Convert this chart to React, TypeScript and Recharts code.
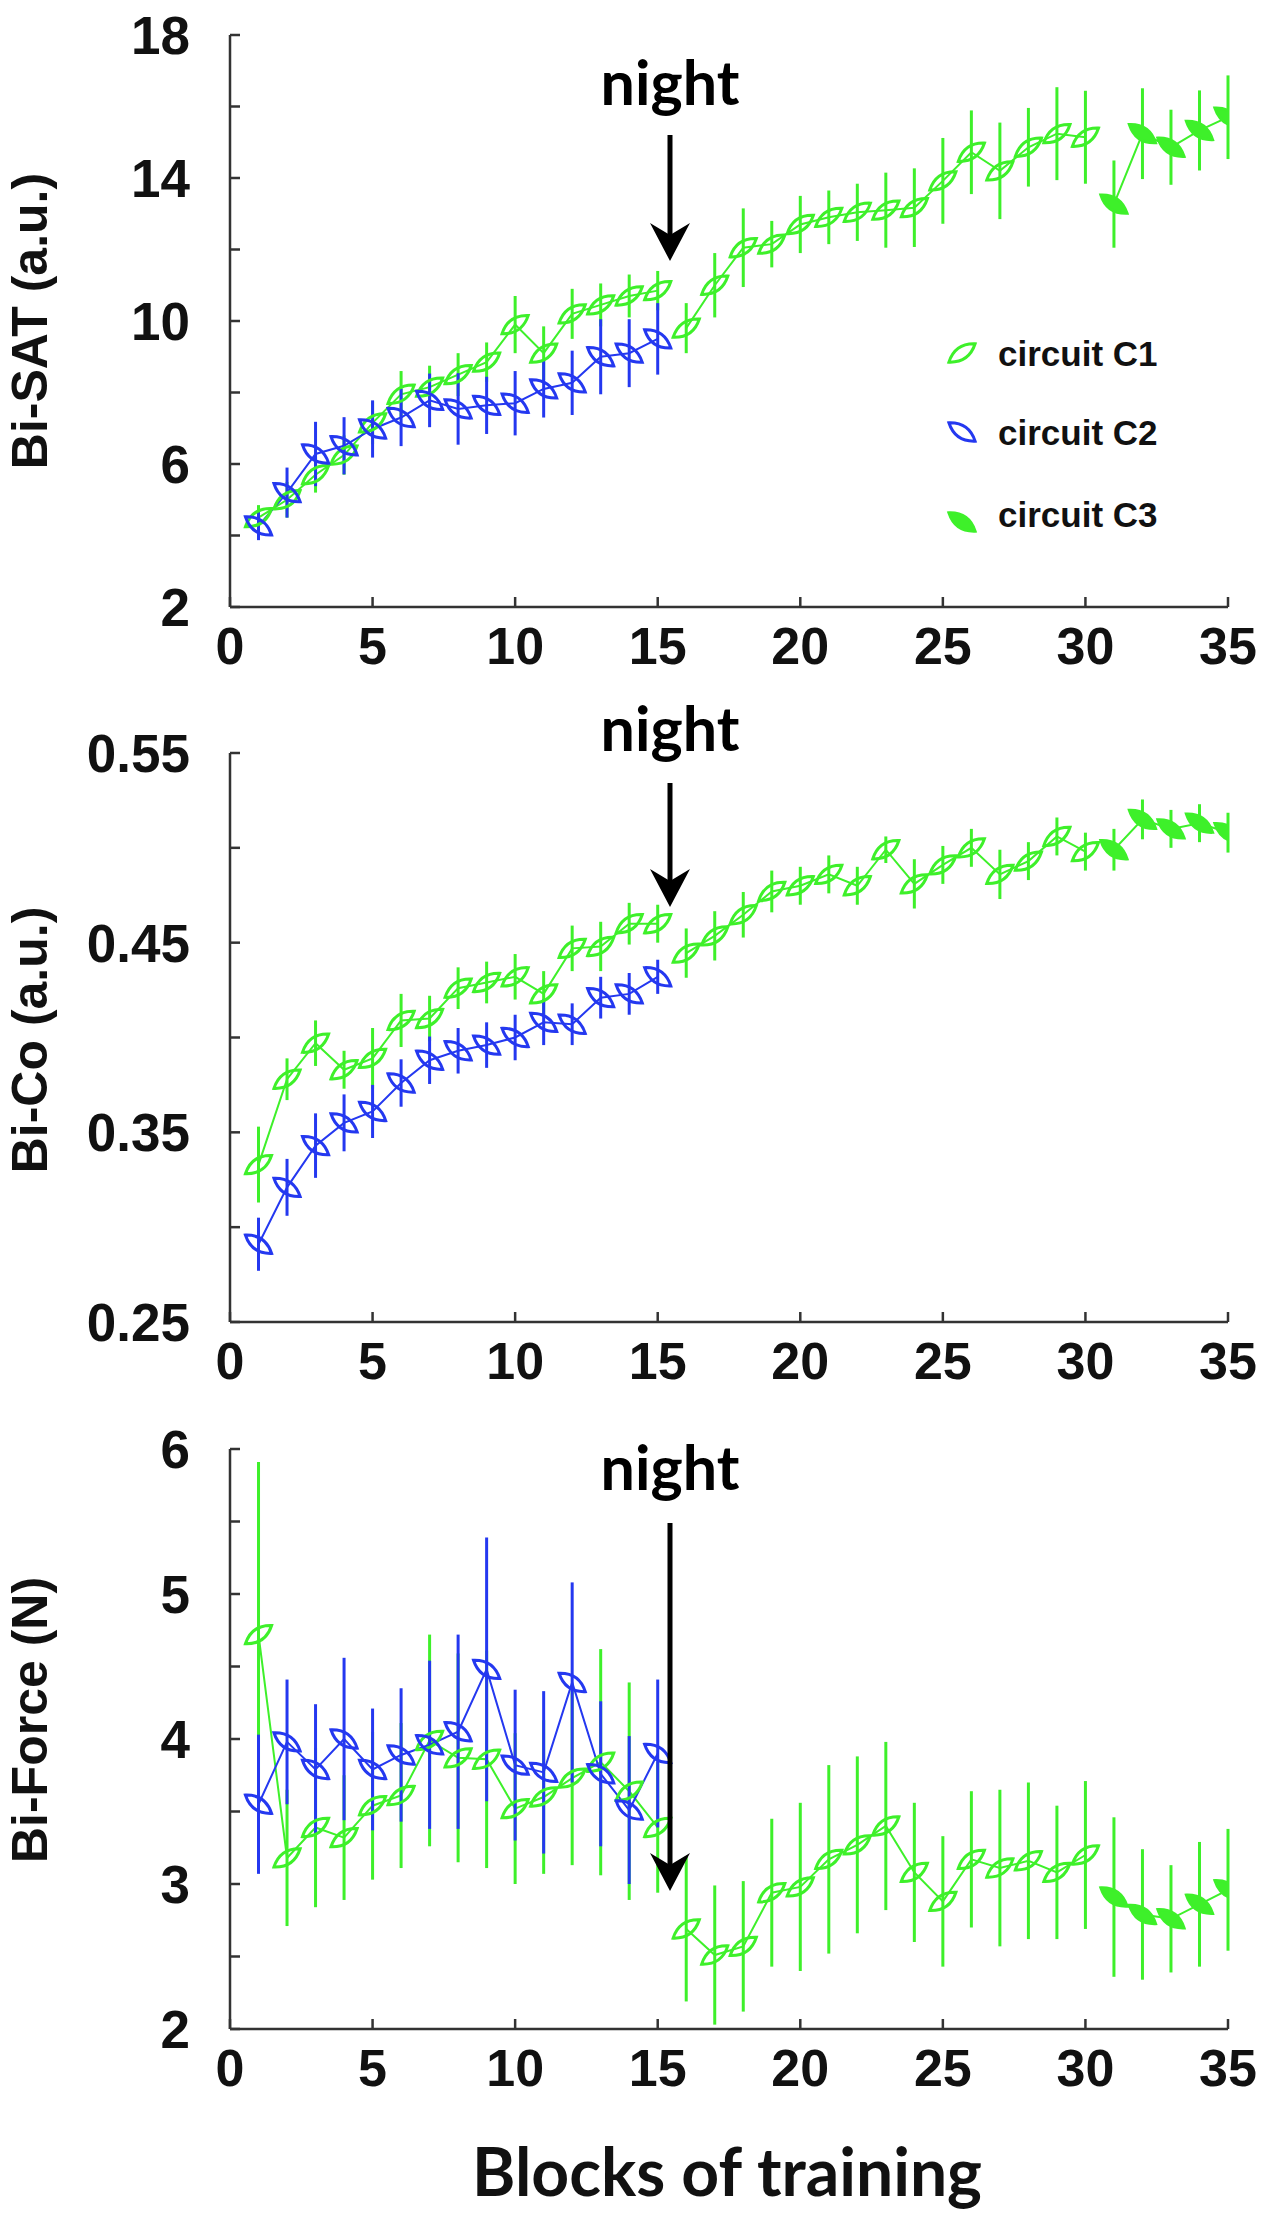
import React from 'react';
import { ComposedChart, Line, XAxis, YAxis, ErrorBar } from 'recharts';

const GREEN = '#3ef02a';
const BLUE = '#2438f0';
const AXIS = '#333333';
const ARIAL = '"Liberation Sans", Arial, sans-serif';
const HUMANIST = 'Lato, "Open Sans", sans-serif';

// blocks of training
const blocksDay1 = [1, 2, 3, 4, 5, 6, 7, 8, 9, 10, 11, 12, 13, 14, 15];
const blocksDay2 = [16, 17, 18, 19, 20, 21, 22, 23, 24, 25, 26, 27, 28, 29, 30];
const blocksC3 = [31, 32, 33, 34, 35];
const xTicks = [0, 5, 10, 15, 20, 25, 30, 35];

// Bi-SAT (a.u.)
const satC1Day1 = [4.5, 5.0, 5.7, 6.25, 7.15, 7.95, 8.15, 8.5, 8.85, 9.9, 9.1, 10.2, 10.45, 10.7, 10.85];
const satC1Day1Err = [0.35, 0.5, 0.5, 0.55, 0.6, 0.65, 0.6, 0.6, 0.55, 0.8, 0.75, 0.7, 0.6, 0.6, 0.55];
const satC1Day2 = [9.8, 11.0, 12.05, 12.15, 12.7, 12.9, 13.04, 13.1, 13.17, 13.92, 14.72, 14.2, 14.86, 15.24, 15.14];
const satC1Day2Err = [0.7, 0.9, 1.1, 0.65, 0.8, 0.75, 0.8, 1.05, 1.1, 1.2, 1.17, 1.35, 1.1, 1.3, 1.3];
const satC2 = [4.27, 5.2, 6.28, 6.51, 6.98, 7.3, 7.78, 7.54, 7.64, 7.7, 8.1, 8.27, 9.0, 9.1, 9.5];
const satC2Err = [0.4, 0.7, 0.9, 0.8, 0.8, 0.8, 0.75, 1.0, 0.8, 0.9, 0.8, 0.9, 1.05, 0.95, 1.0];
const satC3 = [13.27, 15.24, 14.86, 15.33, 15.7];
const satC3Err = [1.22, 1.27, 1.05, 1.12, 1.17];
const satTicks = [2, 4, 6, 8, 10, 12, 14, 16, 18];
const satLabels = [2, 6, 10, 14, 18];

// Bi-Co (a.u.)
const coC1Day1 = [0.333, 0.378, 0.397, 0.383, 0.389, 0.409, 0.41, 0.426, 0.429, 0.432, 0.423, 0.447, 0.448, 0.46, 0.46];
const coC1Day1Err = [0.02, 0.011, 0.012, 0.01, 0.016, 0.014, 0.012, 0.011, 0.011, 0.012, 0.012, 0.012, 0.013, 0.011, 0.01];
const coC1Day2 = [0.4445, 0.4536, 0.4647, 0.477, 0.48, 0.486, 0.48, 0.499, 0.481, 0.491, 0.5, 0.486, 0.493, 0.506, 0.498];
const coC1Day2Err = [0.013, 0.013, 0.012, 0.011, 0.01, 0.01, 0.01, 0.007, 0.013, 0.01, 0.01, 0.013, 0.01, 0.01, 0.01];
const coC2 = [0.291, 0.321, 0.343, 0.355, 0.361, 0.376, 0.388, 0.393, 0.396, 0.4, 0.408, 0.407, 0.421, 0.423, 0.432];
const coC2Err = [0.014, 0.015, 0.017, 0.015, 0.014, 0.0125, 0.0125, 0.012, 0.012, 0.012, 0.012, 0.011, 0.011, 0.011, 0.009];
const coC3 = [0.499, 0.515, 0.51, 0.513, 0.508];
const coC3Err = [0.011, 0.0105, 0.01, 0.01, 0.0105];
const coTicks = [0.25, 0.3, 0.35, 0.4, 0.45, 0.5, 0.55];
const coLabels = [0.25, 0.35, 0.45, 0.55];

// Bi-Force (N)
const forceC1Day1 = [4.72, 3.18, 3.39, 3.32, 3.54, 3.61, 3.99, 3.87, 3.86, 3.52, 3.6, 3.73, 3.84, 3.64, 3.39];
const forceC1Day1Err = [1.19, 0.47, 0.55, 0.43, 0.51, 0.5, 0.73, 0.72, 0.75, 0.52, 0.53, 0.6, 0.78, 0.75, 0.45];
const forceC1Day2 = [2.69, 2.51, 2.57, 2.94, 2.98, 3.17, 3.27, 3.4, 3.08, 2.88, 3.17, 3.11, 3.16, 3.08, 3.2];
const forceC1Day2Err = [0.5, 0.48, 0.45, 0.51, 0.58, 0.65, 0.61, 0.58, 0.48, 0.45, 0.47, 0.54, 0.54, 0.46, 0.51];
const forceC2 = [3.55, 3.98, 3.79, 4.0, 3.79, 3.89, 3.96, 4.05, 4.48, 3.82, 3.77, 4.39, 3.76, 3.51, 3.9];
const forceC2Err = [0.48, 0.43, 0.45, 0.56, 0.42, 0.46, 0.58, 0.67, 0.91, 0.52, 0.56, 0.69, 0.5, 0.51, 0.51];
const forceC3 = [2.91, 2.79, 2.76, 2.86, 2.96];
const forceC3Err = [0.55, 0.45, 0.37, 0.43, 0.42];
const forceTicks = [2, 2.5, 3, 3.5, 4, 4.5, 5, 5.5, 6];
const forceLabels = [2, 3, 4, 5, 6];

const legendNames = ['circuit C1', 'circuit C2', 'circuit C3'];

const zip = (xs: number[], ys: number[], es: number[]) => xs.map((x, i) => ({ x, y: ys[i], e: es[i] }));

// slanted lens marker, like the original's tilted diamonds
const LENS = 'M-16,0 Q0,-12 16,0 Q0,12 -16,0 Z';

function Marker({ cx, cy, color, angle, filled }: any) {
  return (
    <path
      d={LENS}
      transform={`translate(${cx},${cy}) rotate(${angle})`}
      fill={filled ? color : 'none'}
      stroke={color}
      strokeWidth={3}
    />
  );
}

const makeDot = (color: string, angle: number, filled: boolean) => (props: any) => {
  const { cx, cy, index } = props;
  if (cx == null || cy == null) return <g key={`n-${index}`} />;
  return (
    <g key={`d-${index}`}>
      <Marker cx={cx} cy={cy} color={color} angle={angle} filled={filled} />
    </g>
  );
};

const same = (a: number, b: number) => Math.abs(a - b) < 1e-9;

// ticks point inward, labels only on the major values
const makeYTick = (labels: number[], fmt: (v: number) => string) => (props: any) => {
  const { x, y, payload } = props;
  const v = payload.value;
  return (
    <g>
      <line x1={x} x2={x + 10} y1={y} y2={y} stroke={AXIS} strokeWidth={2.5} />
      {labels.some((l) => same(l, v)) && (
        <text x={x - 40} y={y} dy="0.36em" textAnchor="end" fontFamily={ARIAL} fontWeight="bold" fontSize={53} fill="#111">
          {fmt(v)}
        </text>
      )}
    </g>
  );
};

const xTick = (props: any) => {
  const { x, y, payload } = props;
  return (
    <g>
      <line x1={x} x2={x} y1={y} y2={y - 10} stroke={AXIS} strokeWidth={2.5} />
      <text x={x} y={y + 38} dy="0.36em" textAnchor="middle" fontFamily={ARIAL} fontWeight="bold" fontSize={52} fill="#111">
        {payload.value}
      </text>
    </g>
  );
};

interface Series {
  data: { x: number; y: number; e: number }[];
  color: string;
  angle: number;
  filled: boolean;
}

function Panel({ top, height, mTop, plotH, domain, ticks, labels, fmt, series }: any) {
  return (
    <div style={{ position: 'absolute', left: 0, top, width: 1267, height }}>
      <ComposedChart width={1267} height={height} margin={{ top: mTop, right: 39, bottom: 0, left: 0 }}>
        <XAxis
          type="number"
          dataKey="x"
          domain={[0, 35]}
          ticks={xTicks}
          interval={0}
          height={height - mTop - plotH}
          tickSize={0}
          tickMargin={0}
          tick={xTick}
          axisLine={{ stroke: AXIS, strokeWidth: 2.5 }}
          allowDataOverflow
        />
        <YAxis
          type="number"
          dataKey="y"
          domain={domain}
          ticks={ticks}
          interval={0}
          width={230}
          tickSize={0}
          tickMargin={0}
          tick={makeYTick(labels, fmt)}
          axisLine={{ stroke: AXIS, strokeWidth: 2.5 }}
          allowDataOverflow
        />
        {series.map((s: Series, i: number) => (
          <Line
            key={i}
            data={s.data}
            dataKey="y"
            stroke={s.color}
            strokeWidth={2}
            dot={makeDot(s.color, s.angle, s.filled)}
            activeDot={false}
            isAnimationActive={false}
            legendType="none"
          >
            <ErrorBar dataKey="e" direction="y" width={0} stroke={s.color} strokeWidth={3} isAnimationActive={false} />
          </Line>
        ))}
      </ComposedChart>
    </div>
  );
}

const buildSeries = (c1a: any, c1b: any, c2: any, c3: any): Series[] => [
  { data: c1a, color: GREEN, angle: -35, filled: false },
  { data: c1b, color: GREEN, angle: -35, filled: false },
  { data: c2, color: BLUE, angle: 35, filled: false },
  { data: c3, color: GREEN, angle: 35, filled: true },
];

function NightArrow({ x, textY, top, tip }: { x: number; textY: number; top: number; tip: number }) {
  return (
    <g>
      <text x={x} y={textY} textAnchor="middle" fontFamily={HUMANIST} fontWeight="bold" fontSize={61} fill="#000">
        night
      </text>
      <line x1={x} x2={x} y1={top} y2={tip - 20} stroke="#000" strokeWidth={5} />
      <path d={`M${x},${tip} L${x - 20},${tip - 38} L${x},${tip - 26} L${x + 20},${tip - 38} Z`} fill="#000" />
    </g>
  );
}

export default function App() {
  const satSeries = buildSeries(
    zip(blocksDay1, satC1Day1, satC1Day1Err),
    zip(blocksDay2, satC1Day2, satC1Day2Err),
    zip(blocksDay1, satC2, satC2Err),
    zip(blocksC3, satC3, satC3Err)
  );
  const coSeries = buildSeries(
    zip(blocksDay1, coC1Day1, coC1Day1Err),
    zip(blocksDay2, coC1Day2, coC1Day2Err),
    zip(blocksDay1, coC2, coC2Err),
    zip(blocksC3, coC3, coC3Err)
  );
  const forceSeries = buildSeries(
    zip(blocksDay1, forceC1Day1, forceC1Day1Err),
    zip(blocksDay2, forceC1Day2, forceC1Day2Err),
    zip(blocksDay1, forceC2, forceC2Err),
    zip(blocksC3, forceC3, forceC3Err)
  );

  const legendRows = [
    { name: legendNames[0], color: GREEN, angle: -35, filled: false, my: 353, ty: 353 },
    { name: legendNames[1], color: BLUE, angle: 35, filled: false, my: 432, ty: 432 },
    { name: legendNames[2], color: GREEN, angle: 35, filled: true, my: 522, ty: 514 },
  ];

  const yLabel = { fontFamily: ARIAL, fontWeight: 'bold' as const, fontSize: 50, fill: '#111', textAnchor: 'middle' as const };

  return (
    <div style={{ position: 'absolute', left: 0, top: 0, width: 1267, height: 2220, background: '#fff', overflow: 'hidden' }}>
      <Panel top={0} height={700} mTop={35} plotH={572} domain={[2, 18]} ticks={satTicks} labels={satLabels} fmt={(v: number) => String(v)} series={satSeries} />
      <Panel top={700} height={700} mTop={53} plotH={569} domain={[0.25, 0.55]} ticks={coTicks} labels={coLabels} fmt={(v: number) => v.toFixed(2)} series={coSeries} />
      <Panel top={1400} height={700} mTop={49} plotH={580} domain={[2, 6]} ticks={forceTicks} labels={forceLabels} fmt={(v: number) => String(v)} series={forceSeries} />

      <svg width={1267} height={2220} style={{ position: 'absolute', left: 0, top: 0, pointerEvents: 'none' }}>
        <text transform="translate(47,321) rotate(-90)" {...yLabel}>Bi-SAT (a.u.)</text>
        <text transform="translate(47,1040) rotate(-90)" {...yLabel}>Bi-Co (a.u.)</text>
        <text transform="translate(47,1720) rotate(-90)" {...yLabel}>Bi-Force (N)</text>

        <NightArrow x={670} textY={105} top={135} tip={261} />
        <NightArrow x={670} textY={751} top={783} tip={907} />
        <NightArrow x={670} textY={1490} top={1523} tip={1891} />

        {legendRows.map((r) => (
          <g key={r.name}>
            <Marker cx={962} cy={r.my} color={r.color} angle={r.angle} filled={r.filled} />
            <text x={998} y={r.ty} dy="0.36em" fontFamily={ARIAL} fontWeight="bold" fontSize={35} fill="#111">
              {r.name}
            </text>
          </g>
        ))}

        <text x={727} y={2196} textAnchor="middle" fontFamily={HUMANIST} fontWeight="bold" fontSize={66} fill="#111">
          Blocks of training
        </text>
      </svg>
    </div>
  );
}
